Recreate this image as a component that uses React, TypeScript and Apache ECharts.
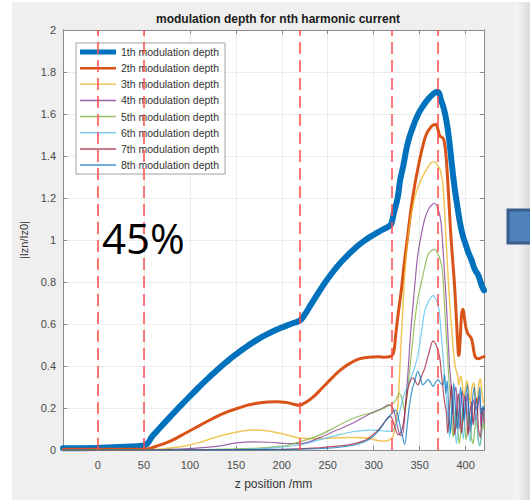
import React, { useEffect, useRef } from 'react';
import * as echarts from 'echarts';

const seriesNames = [
  '1th modulation depth',
  '2th modulation depth',
  '3th modulation depth',
  '4th modulation depth',
  '5th modulation depth',
  '6th modulation depth',
  '7th modulation depth',
  '8th modulation depth',
];

const seriesColors = ['#0072BD', '#D95319', '#EDB120', '#7E2F8E', '#77AC30', '#4DBEEE', '#A2142F', '#0072BD'];
const seriesWidths = [6, 3, 1.5, 1.2, 1.2, 1.2, 1.2, 1.2];
const seriesSmooth = [0.5, 0.5, 0.3, 0.3, 0.3, 0.3, 0.3, 0.3];
const legendIconPaths = [
  'path://M0,0H72V10H0Z',
  'path://M0,0H72V5H0Z',
  'path://M0,0H72V3H0Z',
  'path://M0,0H72V3H0Z',
  'path://M0,0H72V3H0Z',
  'path://M0,0H72V3H0Z',
  'path://M0,0H72V3H0Z',
  'path://M0,0H72V3H0Z',
];

const h1 = [
  [-38, 0.008], [0, 0.01], [30, 0.015], [50, 0.022], [60, 0.07], [70, 0.118], [80, 0.165], [90, 0.211],
  [100, 0.256], [110, 0.3], [120, 0.342], [130, 0.382], [140, 0.42], [150, 0.455], [160, 0.487],
  [170, 0.516], [180, 0.542], [190, 0.564], [200, 0.583], [210, 0.6], [220, 0.618], [225, 0.645],
  [230, 0.68], [240, 0.75], [250, 0.815], [260, 0.872], [270, 0.92], [280, 0.962], [290, 0.997],
  [300, 1.025], [310, 1.05], [318, 1.07], [320, 1.09], [322, 1.13], [326, 1.2], [329, 1.29],
  [332, 1.35], [337, 1.46], [342, 1.53], [348, 1.595], [354, 1.64], [360, 1.675], [366, 1.7],
  [369, 1.706], [371, 1.7], [373, 1.67], [376, 1.63], [379, 1.57], [382, 1.48], [385, 1.36],
  [388, 1.25], [391, 1.16], [394, 1.08], [397, 1.02], [400, 0.98], [403, 0.94], [406, 0.91],
  [410, 0.86], [414, 0.83], [417, 0.79], [420, 0.76],
];

const h2 = [
  [-38, 0.003], [0, 0.003], [50, 0.004], [65, 0.02], [80, 0.045], [95, 0.08], [110, 0.115],
  [125, 0.15], [140, 0.18], [155, 0.203], [170, 0.22], [185, 0.229], [195, 0.23], [205, 0.226],
  [213, 0.218], [219, 0.213], [224, 0.222], [233, 0.248], [245, 0.3], [255, 0.345], [265, 0.385],
  [275, 0.415], [285, 0.435], [295, 0.442], [305, 0.444], [312, 0.442], [318, 0.445], [320, 0.45],
  [322, 0.47], [324, 0.55], [327, 0.66], [330, 0.76], [333, 0.88], [337, 1.02], [341, 1.16],
  [345, 1.27], [349, 1.36], [353, 1.44], [357, 1.5], [361, 1.53], [364, 1.545], [367.5, 1.55],
  [370, 1.525], [372, 1.495], [374, 1.49], [376, 1.48], [378, 1.43], [380, 1.32], [382, 1.17],
  [384, 1.02], [386, 0.9], [388, 0.78], [390, 0.62], [391.5, 0.5], [392.5, 0.45], [394, 0.52],
  [395.5, 0.64], [397, 0.67], [399, 0.62], [401, 0.57], [403, 0.55], [405, 0.54], [407, 0.52],
  [409, 0.47], [411, 0.44], [414, 0.435], [417, 0.44], [420, 0.445],
];

const h3 = [
  [-38, 0.0], [50, 0.001], [70, 0.005], [90, 0.015], [110, 0.035], [130, 0.063], [150, 0.085],
  [169, 0.095], [185, 0.091], [200, 0.078], [212, 0.064], [220, 0.057], [235, 0.055], [255, 0.057],
  [275, 0.059], [292, 0.057], [300, 0.05], [307, 0.043], [314, 0.043], [320, 0.058], [322, 0.08],
  [324, 0.14], [326.5, 0.22], [328, 0.35], [330, 0.53], [332, 0.7], [334, 0.85], [337, 1.0],
  [340, 1.1], [344, 1.19], [348, 1.25], [353, 1.3], [358, 1.34], [362, 1.365], [365, 1.373],
  [368, 1.365], [370, 1.35], [372, 1.34], [374, 1.3], [375, 1.28], [377, 1.15], [379, 0.98],
  [381, 0.82], [383, 0.68], [385, 0.56], [387, 0.46], [389, 0.39], [391, 0.36], [392.5, 0.31],
  [394.5, 0.35], [396, 0.33], [398, 0.25], [400, 0.3], [401.5, 0.33], [403.5, 0.27], [405, 0.22],
  [407, 0.3], [409, 0.32], [410.5, 0.25], [412.5, 0.22], [414, 0.3], [416, 0.34], [418, 0.26],
  [420, 0.22],
];

const h4 = [
  [-38, 0], [50, 0], [90, 0.004], [110, 0.01], [133, 0.02], [151, 0.034], [169, 0.039], [187, 0.037],
  [205, 0.031], [220, 0.03], [241, 0.058], [260, 0.095], [277, 0.127], [295, 0.17], [310, 0.2],
  [316, 0.215], [320, 0.205], [323, 0.17], [326, 0.11], [329, 0.07], [331, 0.07], [333, 0.12],
  [335, 0.24], [337.4, 0.374], [340, 0.55], [342.8, 0.69], [345, 0.8], [348, 0.93], [352, 1.03],
  [355.5, 1.1], [360, 1.15], [364, 1.17], [366.4, 1.175], [369, 1.16], [371.8, 1.12], [373.6, 1.07],
  [375, 0.98], [377, 0.85], [379, 0.7], [380.9, 0.533], [382.5, 0.4], [384.5, 0.295], [386, 0.17],
  [387.5, 0.26], [389.5, 0.3], [391, 0.18], [393, 0.1], [395, 0.24], [396.5, 0.28], [398.5, 0.15],
  [400, 0.2], [402, 0.27], [403.5, 0.12], [405.5, 0.08], [407, 0.2], [409, 0.24], [411, 0.14],
  [413, 0.19], [415, 0.26], [417, 0.11], [419, 0.18], [420, 0.2],
];

const h5 = [
  [-38, 0], [50, 0], [150, 0.005], [200, 0.018], [220, 0.04], [241, 0.071], [259, 0.111],
  [277, 0.15], [295, 0.175], [300, 0.18], [312, 0.2], [318, 0.215], [323, 0.23], [328, 0.27],
  [331, 0.24], [333.8, 0.184], [336, 0.25], [339, 0.374], [342, 0.5], [344.6, 0.61], [348, 0.72],
  [352, 0.8], [356, 0.88], [359, 0.93], [363, 0.95], [366.4, 0.955], [369, 0.94], [371.8, 0.913],
  [374.4, 0.865], [376, 0.78], [377, 0.69], [379, 0.55], [380.9, 0.406], [382.5, 0.3], [384.5, 0.216],
  [386.3, 0.06], [388, 0.12], [389.5, 0.2], [391.5, 0.1], [393, 0.03], [395, 0.1], [397, 0.19],
  [398.5, 0.14], [400.5, 0.05], [402.5, 0.12], [404, 0.18], [406, 0.07], [408, 0.03], [410, 0.1],
  [412, 0.15], [413.5, 0.06], [415.5, 0.02], [417.5, 0.08], [419, 0.13], [420, 0.1],
];

const h6 = [
  [-38, 0], [50, 0], [150, 0.002], [190, 0.01], [220, 0.025], [241, 0.048], [260, 0.07], [277, 0.087],
  [295, 0.095], [305, 0.093], [313, 0.09], [320, 0.09], [323, 0.11], [326.5, 0.15], [332, 0.25],
  [337.4, 0.31], [342, 0.36], [345, 0.4], [348, 0.45], [352, 0.56], [355.5, 0.66], [360, 0.71],
  [364.6, 0.735], [368, 0.715], [370, 0.69], [371.8, 0.64], [373.5, 0.55], [375.4, 0.45], [377, 0.35],
  [379, 0.25], [381, 0.137], [382.5, 0.06], [384, 0.15], [386, 0.26], [388, 0.14], [390, 0.03],
  [392, 0.12], [394, 0.21], [395.5, 0.14], [397.5, 0.05], [399.5, 0.18], [401, 0.23], [403, 0.1],
  [405, 0.04], [407, 0.16], [409, 0.12], [411, 0.2], [413, 0.08], [415, 0.02], [417, 0.07],
  [419, 0.18], [420, 0.16],
];

const h7 = [
  [-38, 0], [50, 0], [200, 0.003], [240, 0.01], [260, 0.018], [277, 0.028], [290, 0.045], [300, 0.075],
  [308, 0.11], [313, 0.14], [317.5, 0.16], [320, 0.15], [323, 0.11], [326.5, 0.073], [329, 0.08],
  [332, 0.12], [335, 0.22], [337.4, 0.295], [340, 0.33], [342.8, 0.343], [345, 0.33], [348, 0.31],
  [351, 0.34], [355.5, 0.39], [360, 0.46], [364.6, 0.52], [368, 0.5], [371.8, 0.44], [373.5, 0.37],
  [375.4, 0.295], [377, 0.23], [379, 0.184], [380.5, 0.08], [382.5, 0.2], [384.5, 0.31], [386.5, 0.17],
  [388, 0.07], [390, 0.16], [392, 0.27], [393.5, 0.2], [395.5, 0.08], [397, 0.15], [399, 0.26],
  [401, 0.18], [402.5, 0.07], [404.5, 0.17], [406.5, 0.23], [408, 0.12], [410, 0.2], [412, 0.25],
  [414, 0.1], [416, 0.06], [418, 0.2], [420, 0.13],
];

const h8 = [
  [-38, 0], [50, 0], [200, 0.002], [240, 0.006], [260, 0.012], [280, 0.025], [295, 0.05], [305, 0.09],
  [313, 0.14], [320, 0.175], [324, 0.19], [327, 0.15], [330, 0.09], [333.8, 0.026], [336, 0.1],
  [339, 0.216], [342, 0.29], [344.6, 0.327], [348, 0.374], [350.5, 0.35], [353.3, 0.31], [356, 0.32],
  [359, 0.335], [362, 0.32], [364.6, 0.303], [367, 0.32], [370, 0.335], [372.5, 0.32], [375.4, 0.31],
  [377, 0.36], [378.5, 0.27], [380, 0.33], [381.5, 0.2], [383.5, 0.08], [385.5, 0.22], [387, 0.32],
  [389, 0.2], [390.5, 0.1], [392.5, 0.18], [394.5, 0.3], [396, 0.22], [398, 0.14], [400, 0.25],
  [402, 0.31], [403.5, 0.2], [405.5, 0.11], [407.5, 0.24], [409.5, 0.3], [411.5, 0.19], [413.5, 0.23],
  [415.5, 0.3], [417, 0.17], [419, 0.21], [420, 0.19],
];

const seriesData = [h1, h2, h3, h4, h5, h6, h7, h8];

const xTickValues = [0, 50, 100, 150, 200, 250, 300, 350, 400];
const markerPositions = [0, 50, 220, 320, 370];
const xMin = -38;
const xMax = 420;
const yMin = 0;
const yMax = 2;
const yStep = 0.2;

const FONT = 'Liberation Sans, Arial, sans-serif';

export default function App() {
  const ref = useRef<HTMLDivElement>(null);

  useEffect(() => {
    const chart = echarts.init(ref.current as HTMLDivElement, null, { renderer: 'svg' });

    const lineSeries = seriesData.map((d, i) => ({
      name: seriesNames[i],
      type: 'line',
      data: d,
      symbol: 'none',
      smooth: seriesSmooth[i],
      xAxisIndex: 0,
      yAxisIndex: 0,
      lineStyle: {
        color: seriesColors[i],
        width: seriesWidths[i],
        opacity: i < 2 ? 1 : 0.75,
        join: 'round',
        cap: 'round',
      },
      itemStyle: { color: seriesColors[i], opacity: i < 2 ? 1 : 0.75 },
      z: 2,
    }));

    const markerSeries = {
      name: 'markers',
      type: 'line',
      data: [],
      xAxisIndex: 0,
      yAxisIndex: 0,
      z: 3,
      markLine: {
        silent: true,
        symbol: ['none', 'none'],
        label: { show: false },
        lineStyle: { color: '#ff4d4d', width: 1.8, type: [12, 6], opacity: 0.85 },
        data: markerPositions.map((v) => ({ xAxis: v })),
      },
    };

    chart.setOption({
      animation: false,
      backgroundColor: '#ffffff',
      title: {
        text: 'modulation depth for nth harmonic current',
        left: 273,
        top: 8,
        textAlign: 'center',
        textStyle: { fontFamily: FONT, fontSize: 12, fontWeight: 'bold', color: '#1a1a1a' },
      },
      graphic: [
        {
          type: 'rect',
          z: -10,
          silent: true,
          shape: { x: 12, y: 2, width: 518, height: 498 },
          style: {
            fill: new echarts.graphic.LinearGradient(0, 0, 1, 0, [
              { offset: 0, color: '#efefef' },
              { offset: 0.96, color: '#efefef' },
              { offset: 0.975, color: '#f3f3f3' },
              { offset: 1, color: '#dcdcdc' },
            ]),
          },
        },
        {
          type: 'rect',
          z: -9,
          silent: true,
          shape: { x: 63, y: 30, width: 421, height: 420 },
          style: { fill: '#ffffff' },
        },
        {
          type: 'rect',
          z: 10,
          silent: true,
          shape: { x: 508, y: 210, width: 30, height: 33 },
          style: { fill: '#4f81bd', stroke: '#3a5e8c', lineWidth: 3 },
        },
        {
          type: 'text',
          z: 10,
          silent: true,
          x: 102,
          y: 237,
          style: {
            text: '45%',
            fontSize: 42,
            fontFamily: 'Open Sans, sans-serif',
            fill: '#000000',
            verticalAlign: 'middle',
            align: 'left',
          },
        },
      ],
      legend: {
        orient: 'vertical',
        left: 76,
        top: 43,
        z: 4,
        backgroundColor: '#ffffff',
        borderColor: '#a0a0a0',
        borderWidth: 1,
        padding: [3, 6, 3, 4],
        itemWidth: 36,
        itemHeight: 12,
        itemGap: 4.15,
        symbolKeepAspect: true,
        textStyle: { fontFamily: FONT, fontSize: 10.5, color: '#333333', lineHeight: 12 },
        data: seriesNames.map((n, i) => ({
          name: n,
          icon: legendIconPaths[i],
          itemStyle: { color: seriesColors[i], opacity: i < 2 ? 1 : 0.75 },
        })),
      },
      grid: { left: 63, right: 46, top: 30, bottom: 52, containLabel: false },
      xAxis: [
        {
          type: 'value',
          min: xMin,
          max: xMax,
          position: 'bottom',
          name: 'z position /mm',
          nameLocation: 'middle',
          nameGap: 28,
          nameTextStyle: { fontFamily: FONT, fontSize: 12, color: '#333333' },
          axisLine: { show: true, onZero: false, lineStyle: { color: '#8a8a8a', width: 1 } },
          axisTick: { show: true, inside: true, length: 4, customValues: xTickValues, lineStyle: { color: '#8a8a8a' } },
          axisLabel: { show: true, customValues: xTickValues, margin: 9, fontFamily: FONT, fontSize: 11, color: '#4a4a4a' },
          splitLine: { show: true, lineStyle: { color: '#ececec', width: 1 } },
        },
        {
          type: 'value',
          min: xMin,
          max: xMax,
          position: 'top',
          axisLine: { show: true, onZero: false, lineStyle: { color: '#8a8a8a', width: 1 } },
          axisTick: { show: true, inside: true, length: 4, customValues: xTickValues, lineStyle: { color: '#8a8a8a' } },
          axisLabel: { show: false },
          splitLine: { show: false },
        },
      ],
      yAxis: [
        {
          type: 'value',
          min: yMin,
          max: yMax,
          interval: yStep,
          position: 'left',
          name: '|Izn/Iz0|',
          nameLocation: 'middle',
          nameGap: 25,
          nameTextStyle: { fontFamily: FONT, fontSize: 11, color: '#333333' },
          axisLine: { show: true, onZero: false, lineStyle: { color: '#8a8a8a', width: 1 } },
          axisTick: { show: true, inside: true, length: 4, lineStyle: { color: '#8a8a8a' } },
          axisLabel: { margin: 7, fontFamily: FONT, fontSize: 11, color: '#4a4a4a' },
          splitLine: { show: true, lineStyle: { color: '#ececec', width: 1 } },
        },
        {
          type: 'value',
          min: yMin,
          max: yMax,
          interval: yStep,
          position: 'right',
          axisLine: { show: true, onZero: false, lineStyle: { color: '#8a8a8a', width: 1 } },
          axisTick: { show: true, inside: true, length: 4, lineStyle: { color: '#8a8a8a' } },
          axisLabel: { show: false },
          splitLine: { show: false },
        },
      ],
      series: [...lineSeries, markerSeries],
    });

    return () => {
      chart.dispose();
    };
  }, []);

  return (
    <div
      ref={ref}
      style={{ position: 'fixed', left: 0, top: 0, width: 530, height: 502 }}
    />
  );
}
